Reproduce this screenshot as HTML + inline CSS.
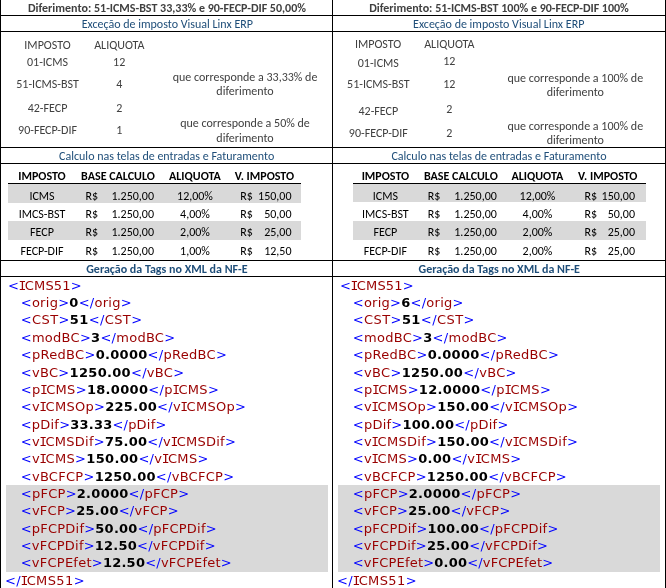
<!DOCTYPE html>
<html><head><meta charset="utf-8"><title>Diferimento ICMS</title><style>
*{margin:0;padding:0;box-sizing:border-box}
html,body{width:666px;height:588px;overflow:hidden;background:#fff}
body{position:relative}
.b{position:absolute}
.t{position:absolute;line-height:0;white-space:pre;font-family:"Carlito","Liberation Sans",sans-serif;font-size:12px;color:#404040}
.hd{font-weight:bold;color:#404040}
.bl{color:#1f4e79}
.b.t,.t.b{font-weight:bold}
.g{color:#404040}
.th{font-weight:bold;color:#000}
.td{color:#000}
.x{font-family:"DejaVu Sans","Liberation Sans",sans-serif;font-size:13px}
.x1{color:#0000ff}
.x2{color:#990000}
.x3{color:#000;font-weight:bold}
.si{font-family:"DejaVu Sans Mono","DejaVu Sans",monospace;letter-spacing:-1.6px;margin-left:-0.6px}
</style></head>
<body>
<div class="b" style="left:8px;top:184px;width:293px;height:19px;background:#d9d9d9"></div>
<div class="b" style="left:8px;top:221px;width:293px;height:19px;background:#d9d9d9"></div>
<div class="b" style="left:8px;top:183px;width:293px;height:1px;background:#000"></div>
<div class="b" style="left:353px;top:184px;width:293px;height:18px;background:#d9d9d9"></div>
<div class="b" style="left:353px;top:221px;width:293px;height:19px;background:#d9d9d9"></div>
<div class="b" style="left:353px;top:183px;width:293px;height:1px;background:#000"></div>
<div class="b" style="left:6px;top:485px;width:322px;height:87px;background:#d9d9d9"></div>
<div class="b" style="left:338px;top:485px;width:322px;height:87px;background:#d9d9d9"></div>
<div class="b" style="left:0px;top:15px;width:666px;height:1px;background:#000"></div>
<div class="b" style="left:0px;top:31px;width:666px;height:1px;background:#000"></div>
<div class="b" style="left:0px;top:147px;width:666px;height:1px;background:#000"></div>
<div class="b" style="left:0px;top:163px;width:666px;height:1px;background:#000"></div>
<div class="b" style="left:0px;top:260px;width:666px;height:1px;background:#000"></div>
<div class="b" style="left:0px;top:276px;width:666px;height:1px;background:#000"></div>
<div class="b" style="left:0px;top:0px;width:1px;height:588px;background:#000"></div>
<div class="b" style="left:332px;top:0px;width:1px;height:588px;background:#000"></div>
<div class="b" style="left:665px;top:0px;width:1px;height:588px;background:#000"></div>
<div class="t hd" style="left:167px;top:8px;transform:translateX(-50%);">Diferimento: 51-ICMS-BST 33,33% e 90-FECP-DIF 50,00%</div>
<div class="t bl" style="left:167.3px;top:24px;transform:translateX(-50%);">Exceção de imposto Visual Linx ERP</div>
<div class="t g" style="left:47.5px;top:45px;transform:translateX(-50%);">IMPOSTO</div>
<div class="t g" style="left:119.3px;top:45px;transform:translateX(-50%);">ALIQUOTA</div>
<div class="t g" style="left:47.5px;top:62px;transform:translateX(-50%);">01-ICMS</div>
<div class="t g" style="left:47.5px;top:83.5px;transform:translateX(-50%);">51-ICMS-BST</div>
<div class="t g" style="left:47.5px;top:108px;transform:translateX(-50%);">42-FECP</div>
<div class="t g" style="left:47.5px;top:129.5px;transform:translateX(-50%);">90-FECP-DIF</div>
<div class="t g" style="left:119.2px;top:62px;transform:translateX(-50%);">12</div>
<div class="t g" style="left:119.2px;top:83.5px;transform:translateX(-50%);">4</div>
<div class="t g" style="left:119.2px;top:108px;transform:translateX(-50%);">2</div>
<div class="t g" style="left:119.2px;top:129.5px;transform:translateX(-50%);">1</div>
<div class="t g" style="left:245px;top:77px;transform:translateX(-50%);">que corresponde a 33,33% de</div>
<div class="t g" style="left:245px;top:91px;transform:translateX(-50%);">diferimento</div>
<div class="t g" style="left:245px;top:123px;transform:translateX(-50%);">que corresponde a 50% de</div>
<div class="t g" style="left:245px;top:137.5px;transform:translateX(-50%);">diferimento</div>
<div class="t hd" style="left:499px;top:8px;transform:translateX(-50%);">Diferimento: 51-ICMS-BST 100% e 90-FECP-DIF 100%</div>
<div class="t bl" style="left:498.7px;top:24px;transform:translateX(-50%);">Exceção de imposto Visual Linx ERP</div>
<div class="t g" style="left:378.1px;top:44px;transform:translateX(-50%);">IMPOSTO</div>
<div class="t g" style="left:449.3px;top:44px;transform:translateX(-50%);">ALIQUOTA</div>
<div class="t g" style="left:378.3px;top:63px;transform:translateX(-50%);">01-ICMS</div>
<div class="t g" style="left:378.3px;top:84px;transform:translateX(-50%);">51-ICMS-BST</div>
<div class="t g" style="left:378.3px;top:111px;transform:translateX(-50%);">42-FECP</div>
<div class="t g" style="left:378.3px;top:133px;transform:translateX(-50%);">90-FECP-DIF</div>
<div class="t g" style="left:449.3px;top:61px;transform:translateX(-50%);">12</div>
<div class="t g" style="left:449.3px;top:84px;transform:translateX(-50%);">12</div>
<div class="t g" style="left:449.3px;top:109px;transform:translateX(-50%);">2</div>
<div class="t g" style="left:449.3px;top:133px;transform:translateX(-50%);">2</div>
<div class="t g" style="left:575.3px;top:78px;transform:translateX(-50%);">que corresponde a 100% de</div>
<div class="t g" style="left:575.3px;top:92px;transform:translateX(-50%);">diferimento</div>
<div class="t g" style="left:575.3px;top:126px;transform:translateX(-50%);">que corresponde a 100% de</div>
<div class="t g" style="left:575.3px;top:140px;transform:translateX(-50%);">diferimento</div>
<div class="t bl" style="left:59.1px;top:156px;">Calculo nas telas de entradas e Faturamento</div>
<div class="t bl" style="left:391.4px;top:156px;">Calculo nas telas de entradas e Faturamento</div>
<div class="t th" style="left:42px;top:176px;transform:translateX(-50%);">IMPOSTO</div>
<div class="t th" style="left:118px;top:176px;transform:translateX(-50%);">BASE CALCULO</div>
<div class="t th" style="left:194.9px;top:176px;transform:translateX(-50%);">ALIQUOTA</div>
<div class="t th" style="left:264.4px;top:176px;transform:translateX(-50%);">V. IMPOSTO</div>
<div class="t td" style="left:42px;top:196px;transform:translateX(-50%);">ICMS</div>
<div class="t td" style="left:85.5px;top:196px;">R$</div>
<div class="t td" style="left:154px;top:196px;transform:translateX(-100%);">1.250,00</div>
<div class="t td" style="left:195px;top:196px;transform:translateX(-50%);">12,00%</div>
<div class="t td" style="left:240.2px;top:196px;">R$</div>
<div class="t td" style="left:291.5px;top:196px;transform:translateX(-100%);">150,00</div>
<div class="t td" style="left:42px;top:214px;transform:translateX(-50%);">IMCS-BST</div>
<div class="t td" style="left:85.5px;top:214px;">R$</div>
<div class="t td" style="left:154px;top:214px;transform:translateX(-100%);">1.250,00</div>
<div class="t td" style="left:195px;top:214px;transform:translateX(-50%);">4,00%</div>
<div class="t td" style="left:240.2px;top:214px;">R$</div>
<div class="t td" style="left:291.5px;top:214px;transform:translateX(-100%);">50,00</div>
<div class="t td" style="left:42px;top:232px;transform:translateX(-50%);">FECP</div>
<div class="t td" style="left:85.5px;top:232px;">R$</div>
<div class="t td" style="left:154px;top:232px;transform:translateX(-100%);">1.250,00</div>
<div class="t td" style="left:195px;top:232px;transform:translateX(-50%);">2,00%</div>
<div class="t td" style="left:240.2px;top:232px;">R$</div>
<div class="t td" style="left:291.5px;top:232px;transform:translateX(-100%);">25,00</div>
<div class="t td" style="left:42px;top:251px;transform:translateX(-50%);">FECP-DIF</div>
<div class="t td" style="left:85.5px;top:251px;">R$</div>
<div class="t td" style="left:154px;top:251px;transform:translateX(-100%);">1.250,00</div>
<div class="t td" style="left:195px;top:251px;transform:translateX(-50%);">1,00%</div>
<div class="t td" style="left:240.2px;top:251px;">R$</div>
<div class="t td" style="left:291.5px;top:251px;transform:translateX(-100%);">12,50</div>
<div class="t th" style="left:385.4px;top:176px;transform:translateX(-50%);">IMPOSTO</div>
<div class="t th" style="left:460.9px;top:176px;transform:translateX(-50%);">BASE CALCULO</div>
<div class="t th" style="left:537.3px;top:176px;transform:translateX(-50%);">ALIQUOTA</div>
<div class="t th" style="left:607.8px;top:176px;transform:translateX(-50%);">V. IMPOSTO</div>
<div class="t td" style="left:385.4px;top:196px;transform:translateX(-50%);">ICMS</div>
<div class="t td" style="left:427.8px;top:196px;">R$</div>
<div class="t td" style="left:496.8px;top:196px;transform:translateX(-100%);">1.250,00</div>
<div class="t td" style="left:537.5px;top:196px;transform:translateX(-50%);">12,00%</div>
<div class="t td" style="left:584.5px;top:196px;">R$</div>
<div class="t td" style="left:635px;top:196px;transform:translateX(-100%);">150,00</div>
<div class="t td" style="left:385.4px;top:214px;transform:translateX(-50%);">IMCS-BST</div>
<div class="t td" style="left:427.8px;top:214px;">R$</div>
<div class="t td" style="left:496.8px;top:214px;transform:translateX(-100%);">1.250,00</div>
<div class="t td" style="left:537.5px;top:214px;transform:translateX(-50%);">4,00%</div>
<div class="t td" style="left:584.5px;top:214px;">R$</div>
<div class="t td" style="left:635px;top:214px;transform:translateX(-100%);">50,00</div>
<div class="t td" style="left:385.4px;top:232px;transform:translateX(-50%);">FECP</div>
<div class="t td" style="left:427.8px;top:232px;">R$</div>
<div class="t td" style="left:496.8px;top:232px;transform:translateX(-100%);">1.250,00</div>
<div class="t td" style="left:537.5px;top:232px;transform:translateX(-50%);">2,00%</div>
<div class="t td" style="left:584.5px;top:232px;">R$</div>
<div class="t td" style="left:635px;top:232px;transform:translateX(-100%);">25,00</div>
<div class="t td" style="left:385.4px;top:251px;transform:translateX(-50%);">FECP-DIF</div>
<div class="t td" style="left:427.8px;top:251px;">R$</div>
<div class="t td" style="left:496.8px;top:251px;transform:translateX(-100%);">1.250,00</div>
<div class="t td" style="left:537.5px;top:251px;transform:translateX(-50%);">2,00%</div>
<div class="t td" style="left:584.5px;top:251px;">R$</div>
<div class="t td" style="left:635px;top:251px;transform:translateX(-100%);">25,00</div>
<div class="t bl b" style="left:86.2px;top:269px;">Geração da Tags no XML da NF-E</div>
<div class="t bl b" style="left:418.6px;top:269px;">Geração da Tags no XML da NF-E</div>
<div class="t x" style="left:8.08px;top:286px;letter-spacing:0.164px"><span class="x1">&lt;</span><span class="x2"><span class="si">I</span>CMS51</span><span class="x1">&gt;</span></div>
<div class="t x" style="left:20.72px;top:303px;letter-spacing:0.278px"><span class="x1">&lt;</span><span class="x2">orig</span><span class="x1">&gt;</span><span class="x3">0</span><span class="x1">&lt;/</span><span class="x2">orig</span><span class="x1">&gt;</span></div>
<div class="t x" style="left:20.72px;top:320px;letter-spacing:0.393px"><span class="x1">&lt;</span><span class="x2">CST</span><span class="x1">&gt;</span><span class="x3">51</span><span class="x1">&lt;/</span><span class="x2">CST</span><span class="x1">&gt;</span></div>
<div class="t x" style="left:20.72px;top:338px;letter-spacing:0.271px"><span class="x1">&lt;</span><span class="x2">modBC</span><span class="x1">&gt;</span><span class="x3">3</span><span class="x1">&lt;/</span><span class="x2">modBC</span><span class="x1">&gt;</span></div>
<div class="t x" style="left:20.72px;top:355px;letter-spacing:0.297px"><span class="x1">&lt;</span><span class="x2">pRedBC</span><span class="x1">&gt;</span><span class="x3">0.0000</span><span class="x1">&lt;/</span><span class="x2">pRedBC</span><span class="x1">&gt;</span></div>
<div class="t x" style="left:20.72px;top:373px;letter-spacing:0.311px"><span class="x1">&lt;</span><span class="x2">vBC</span><span class="x1">&gt;</span><span class="x3">1250.00</span><span class="x1">&lt;/</span><span class="x2">vBC</span><span class="x1">&gt;</span></div>
<div class="t x" style="left:20.72px;top:390px;letter-spacing:0.315px"><span class="x1">&lt;</span><span class="x2">p<span class="si">I</span>CMS</span><span class="x1">&gt;</span><span class="x3">18.0000</span><span class="x1">&lt;/</span><span class="x2">p<span class="si">I</span>CMS</span><span class="x1">&gt;</span></div>
<div class="t x" style="left:20.72px;top:407px;letter-spacing:0.290px"><span class="x1">&lt;</span><span class="x2">v<span class="si">I</span>CMSOp</span><span class="x1">&gt;</span><span class="x3">225.00</span><span class="x1">&lt;/</span><span class="x2">v<span class="si">I</span>CMSOp</span><span class="x1">&gt;</span></div>
<div class="t x" style="left:20.72px;top:425px;letter-spacing:0.215px"><span class="x1">&lt;</span><span class="x2">pDif</span><span class="x1">&gt;</span><span class="x3">33.33</span><span class="x1">&lt;/</span><span class="x2">pDif</span><span class="x1">&gt;</span></div>
<div class="t x" style="left:20.72px;top:442px;letter-spacing:0.253px"><span class="x1">&lt;</span><span class="x2">v<span class="si">I</span>CMSDif</span><span class="x1">&gt;</span><span class="x3">75.00</span><span class="x1">&lt;/</span><span class="x2">v<span class="si">I</span>CMSDif</span><span class="x1">&gt;</span></div>
<div class="t x" style="left:20.72px;top:459px;letter-spacing:0.318px"><span class="x1">&lt;</span><span class="x2">v<span class="si">I</span>CMS</span><span class="x1">&gt;</span><span class="x3">150.00</span><span class="x1">&lt;/</span><span class="x2">v<span class="si">I</span>CMS</span><span class="x1">&gt;</span></div>
<div class="t x" style="left:20.72px;top:477px;letter-spacing:0.281px"><span class="x1">&lt;</span><span class="x2">vBCFCP</span><span class="x1">&gt;</span><span class="x3">1250.00</span><span class="x1">&lt;/</span><span class="x2">vBCFCP</span><span class="x1">&gt;</span></div>
<div class="t x" style="left:20.72px;top:494px;letter-spacing:0.272px"><span class="x1">&lt;</span><span class="x2">pFCP</span><span class="x1">&gt;</span><span class="x3">2.0000</span><span class="x1">&lt;/</span><span class="x2">pFCP</span><span class="x1">&gt;</span></div>
<div class="t x" style="left:20.72px;top:511px;letter-spacing:0.269px"><span class="x1">&lt;</span><span class="x2">vFCP</span><span class="x1">&gt;</span><span class="x3">25.00</span><span class="x1">&lt;/</span><span class="x2">vFCP</span><span class="x1">&gt;</span></div>
<div class="t x" style="left:20.72px;top:529px;letter-spacing:0.220px"><span class="x1">&lt;</span><span class="x2">pFCPDif</span><span class="x1">&gt;</span><span class="x3">50.00</span><span class="x1">&lt;/</span><span class="x2">pFCPDif</span><span class="x1">&gt;</span></div>
<div class="t x" style="left:20.72px;top:546px;letter-spacing:0.224px"><span class="x1">&lt;</span><span class="x2">vFCPDif</span><span class="x1">&gt;</span><span class="x3">12.50</span><span class="x1">&lt;/</span><span class="x2">vFCPDif</span><span class="x1">&gt;</span></div>
<div class="t x" style="left:20.72px;top:563px;letter-spacing:0.237px"><span class="x1">&lt;</span><span class="x2">vFCPEfet</span><span class="x1">&gt;</span><span class="x3">12.50</span><span class="x1">&lt;/</span><span class="x2">vFCPEfet</span><span class="x1">&gt;</span></div>
<div class="t x" style="left:5.0px;top:581px;letter-spacing:0.375px"><span class="x1">&lt;/</span><span class="x2"><span class="si">I</span>CMS51</span><span class="x1">&gt;</span></div>
<div class="t x" style="left:340.08px;top:286px;letter-spacing:0.164px"><span class="x1">&lt;</span><span class="x2"><span class="si">I</span>CMS51</span><span class="x1">&gt;</span></div>
<div class="t x" style="left:352.72px;top:303px;letter-spacing:0.256px"><span class="x1">&lt;</span><span class="x2">orig</span><span class="x1">&gt;</span><span class="x3">6</span><span class="x1">&lt;/</span><span class="x2">orig</span><span class="x1">&gt;</span></div>
<div class="t x" style="left:352.72px;top:320px;letter-spacing:0.420px"><span class="x1">&lt;</span><span class="x2">CST</span><span class="x1">&gt;</span><span class="x3">51</span><span class="x1">&lt;/</span><span class="x2">CST</span><span class="x1">&gt;</span></div>
<div class="t x" style="left:352.72px;top:338px;letter-spacing:0.295px"><span class="x1">&lt;</span><span class="x2">modBC</span><span class="x1">&gt;</span><span class="x3">3</span><span class="x1">&lt;/</span><span class="x2">modBC</span><span class="x1">&gt;</span></div>
<div class="t x" style="left:352.72px;top:355px;letter-spacing:0.295px"><span class="x1">&lt;</span><span class="x2">pRedBC</span><span class="x1">&gt;</span><span class="x3">0.0000</span><span class="x1">&lt;/</span><span class="x2">pRedBC</span><span class="x1">&gt;</span></div>
<div class="t x" style="left:352.72px;top:373px;letter-spacing:0.332px"><span class="x1">&lt;</span><span class="x2">vBC</span><span class="x1">&gt;</span><span class="x3">1250.00</span><span class="x1">&lt;/</span><span class="x2">vBC</span><span class="x1">&gt;</span></div>
<div class="t x" style="left:352.72px;top:390px;letter-spacing:0.313px"><span class="x1">&lt;</span><span class="x2">p<span class="si">I</span>CMS</span><span class="x1">&gt;</span><span class="x3">12.0000</span><span class="x1">&lt;/</span><span class="x2">p<span class="si">I</span>CMS</span><span class="x1">&gt;</span></div>
<div class="t x" style="left:352.72px;top:407px;letter-spacing:0.292px"><span class="x1">&lt;</span><span class="x2">v<span class="si">I</span>CMSOp</span><span class="x1">&gt;</span><span class="x3">150.00</span><span class="x1">&lt;/</span><span class="x2">v<span class="si">I</span>CMSOp</span><span class="x1">&gt;</span></div>
<div class="t x" style="left:352.72px;top:425px;letter-spacing:0.252px"><span class="x1">&lt;</span><span class="x2">pDif</span><span class="x1">&gt;</span><span class="x3">100.00</span><span class="x1">&lt;/</span><span class="x2">pDif</span><span class="x1">&gt;</span></div>
<div class="t x" style="left:352.72px;top:442px;letter-spacing:0.288px"><span class="x1">&lt;</span><span class="x2">v<span class="si">I</span>CMSDif</span><span class="x1">&gt;</span><span class="x3">150.00</span><span class="x1">&lt;/</span><span class="x2">v<span class="si">I</span>CMSDif</span><span class="x1">&gt;</span></div>
<div class="t x" style="left:352.72px;top:459px;letter-spacing:0.288px"><span class="x1">&lt;</span><span class="x2">v<span class="si">I</span>CMS</span><span class="x1">&gt;</span><span class="x3">0.00</span><span class="x1">&lt;/</span><span class="x2">v<span class="si">I</span>CMS</span><span class="x1">&gt;</span></div>
<div class="t x" style="left:352.72px;top:477px;letter-spacing:0.309px"><span class="x1">&lt;</span><span class="x2">vBCFCP</span><span class="x1">&gt;</span><span class="x3">1250.00</span><span class="x1">&lt;/</span><span class="x2">vBCFCP</span><span class="x1">&gt;</span></div>
<div class="t x" style="left:352.72px;top:494px;letter-spacing:0.270px"><span class="x1">&lt;</span><span class="x2">pFCP</span><span class="x1">&gt;</span><span class="x3">2.0000</span><span class="x1">&lt;/</span><span class="x2">pFCP</span><span class="x1">&gt;</span></div>
<div class="t x" style="left:352.72px;top:511px;letter-spacing:0.255px"><span class="x1">&lt;</span><span class="x2">vFCP</span><span class="x1">&gt;</span><span class="x3">25.00</span><span class="x1">&lt;/</span><span class="x2">vFCP</span><span class="x1">&gt;</span></div>
<div class="t x" style="left:352.72px;top:529px;letter-spacing:0.238px"><span class="x1">&lt;</span><span class="x2">pFCPDif</span><span class="x1">&gt;</span><span class="x3">100.00</span><span class="x1">&lt;/</span><span class="x2">pFCPDif</span><span class="x1">&gt;</span></div>
<div class="t x" style="left:352.72px;top:546px;letter-spacing:0.236px"><span class="x1">&lt;</span><span class="x2">vFCPDif</span><span class="x1">&gt;</span><span class="x3">25.00</span><span class="x1">&lt;/</span><span class="x2">vFCPDif</span><span class="x1">&gt;</span></div>
<div class="t x" style="left:352.72px;top:563px;letter-spacing:0.182px"><span class="x1">&lt;</span><span class="x2">vFCPEfet</span><span class="x1">&gt;</span><span class="x3">0.00</span><span class="x1">&lt;/</span><span class="x2">vFCPEfet</span><span class="x1">&gt;</span></div>
<div class="t x" style="left:337.0px;top:581px;letter-spacing:0.375px"><span class="x1">&lt;/</span><span class="x2"><span class="si">I</span>CMS51</span><span class="x1">&gt;</span></div>
</body></html>
